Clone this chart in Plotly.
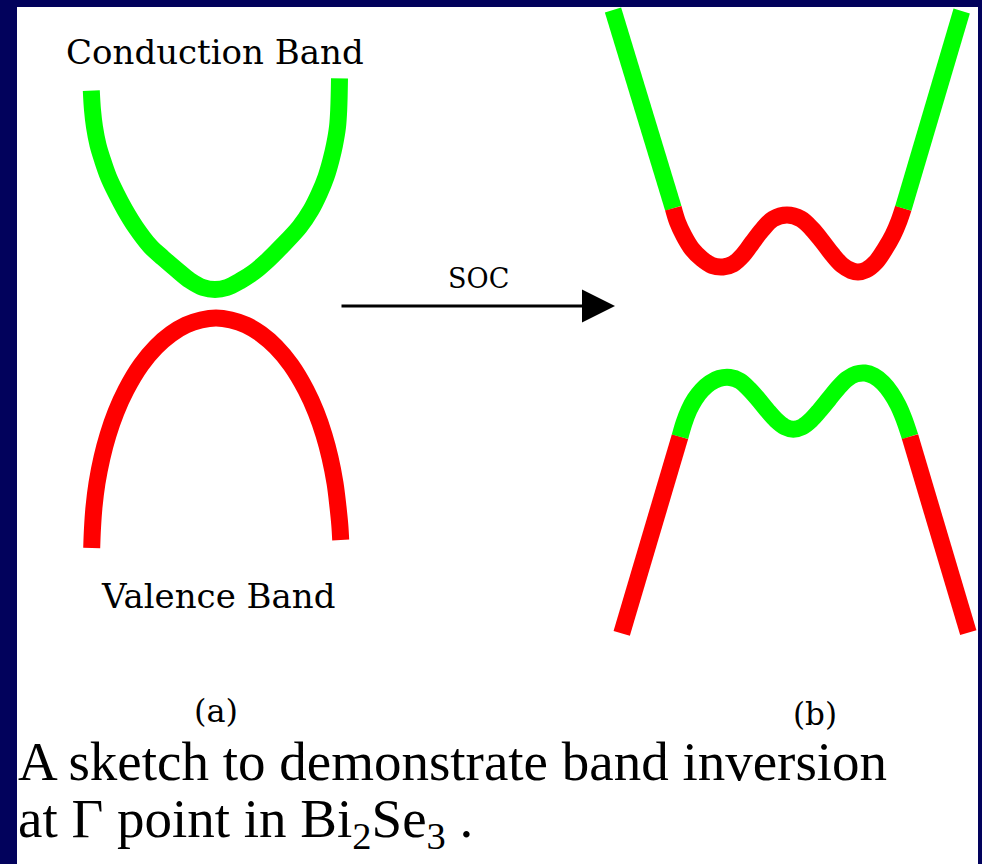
import plotly.graph_objects as go

NAVY = "#02025C"
GREEN = "#00FF00"
RED = "#FF0000"

# ---------- Panel (a): without SOC ----------
cond_a_k = [91.3, 92.5, 94.5, 98, 102.5, 108.5, 116, 125, 135.5, 150, 163, 177, 190, 203, 215,
            227, 240, 254, 268, 281, 299.5, 311, 319.5, 326, 331, 334.5, 337.5, 338.7, 339.5]
cond_a_E = [90.7, 110, 127, 145, 160, 177, 193, 210, 227, 246, 258, 270, 280.5, 287.5, 289.5,
            287.5, 281, 272, 260, 247, 227, 210, 193, 177, 160, 145, 127, 110, 78.3]

val_a_k = [91.7, 92.5, 94, 97, 102, 108, 116, 126, 141, 156, 171, 186, 201, 216,
           231, 246, 261, 276, 291, 306, 316, 324, 330, 335, 338, 339.8, 340.7]
val_a_E = [548, 528, 507, 483, 457.5, 435, 412, 390, 365, 347, 334, 325, 320, 318,
           320, 325, 334, 347, 365, 390, 412, 435, 457.5, 483, 507, 525, 540]

# ---------- Panel (b): with SOC (inverted) ----------
up_left_k, up_left_E = [613.0, 673.3], [10, 208.3]
up_mid_k = [673.3, 677.5, 684, 692, 702, 712, 723, 733, 743, 752, 762, 773, 787,
            801, 812, 822, 832, 842, 851, 858, 866, 876, 885, 893, 899, 903.3]
up_mid_E = [208.3, 222, 236, 249, 259, 265.5, 267, 264, 255, 243, 230, 219, 215,
            219, 229, 241, 254, 265, 270.5, 272, 270, 262, 249, 235, 221, 208.3]
up_right_k, up_right_E = [903.3, 961.7], [208.3, 11]

lo_left_k, lo_left_E = [621.7, 680], [633.3, 436.7]
lo_mid_k = [680, 684, 689, 695, 702, 710, 719, 730, 740, 749, 758, 767, 776, 785, 793.3,
            802, 811, 820, 829, 838, 847, 856, 865, 874, 883, 891, 898, 904, 910]
lo_mid_E = [436.7, 423, 410, 399, 390, 383, 378.5, 377.5, 381, 389, 399, 410, 420, 427, 429.3,
            427, 420, 410, 399, 388, 379, 374, 373, 376, 383, 393, 405, 419, 436.7]
lo_right_k, lo_right_E = [910, 968.3], [436.7, 632.7]

LW = 17

fig = go.Figure()

def band(k, E, color, shape):
    fig.add_trace(go.Scatter(x=k, y=E, mode="lines",
                             line=dict(color=color, width=LW, shape=shape),
                             hoverinfo="skip", showlegend=False))

band(cond_a_k, cond_a_E, GREEN, "spline")
band(val_a_k, val_a_E, RED, "spline")

band(up_left_k, up_left_E, GREEN, "linear")
band(up_mid_k, up_mid_E, RED, "spline")
band(up_right_k, up_right_E, GREEN, "linear")

band(lo_left_k, lo_left_E, RED, "linear")
band(lo_mid_k, lo_mid_E, GREEN, "spline")
band(lo_right_k, lo_right_E, RED, "linear")

LABEL_FONT = "DejaVu Serif"
CAPTION_FONT = "Liberation Serif"

def label(text, x, y, size, family, xanchor="center"):
    fig.add_annotation(x=x, y=y, xref="x", yref="y", text=text, showarrow=False,
                       xanchor=xanchor, yanchor="middle", borderpad=0,
                       font=dict(family=family, size=size, color="black"))

label("Conduction Band", 215, 52, 34, LABEL_FONT)
label("Valence Band", 217.5, 595.5, 34, LABEL_FONT)
label("SOC", 478, 278.5, 27, LABEL_FONT)
label("(a)", 216, 711, 32, LABEL_FONT)
label("(b)", 815, 714, 31, LABEL_FONT)
label("A sketch to demonstrate band inversion", 17, 761, 55, CAPTION_FONT, xanchor="left")
label("at Γ point in Bi<sub>2</sub>Se<sub>3</sub> .", 17, 822, 55, CAPTION_FONT, xanchor="left")

# SOC arrow
fig.add_annotation(x=615, y=306, ax=340, ay=306, xref="x", yref="y", axref="x", ayref="y",
                   text="", showarrow=True, arrowhead=2, arrowsize=2.2, arrowwidth=3,
                   arrowcolor="black", standoff=0, startstandoff=0)

fig.update_xaxes(range=[17, 978], visible=False, fixedrange=True)
fig.update_yaxes(range=[864, 7], visible=False, fixedrange=True)
fig.update_layout(width=982, height=864, autosize=False,
                  margin=dict(l=17, r=4, t=7, b=0, pad=0),
                  paper_bgcolor=NAVY, plot_bgcolor="white", showlegend=False)

fig.write_html("out.html", config={"displayModeBar": False})
